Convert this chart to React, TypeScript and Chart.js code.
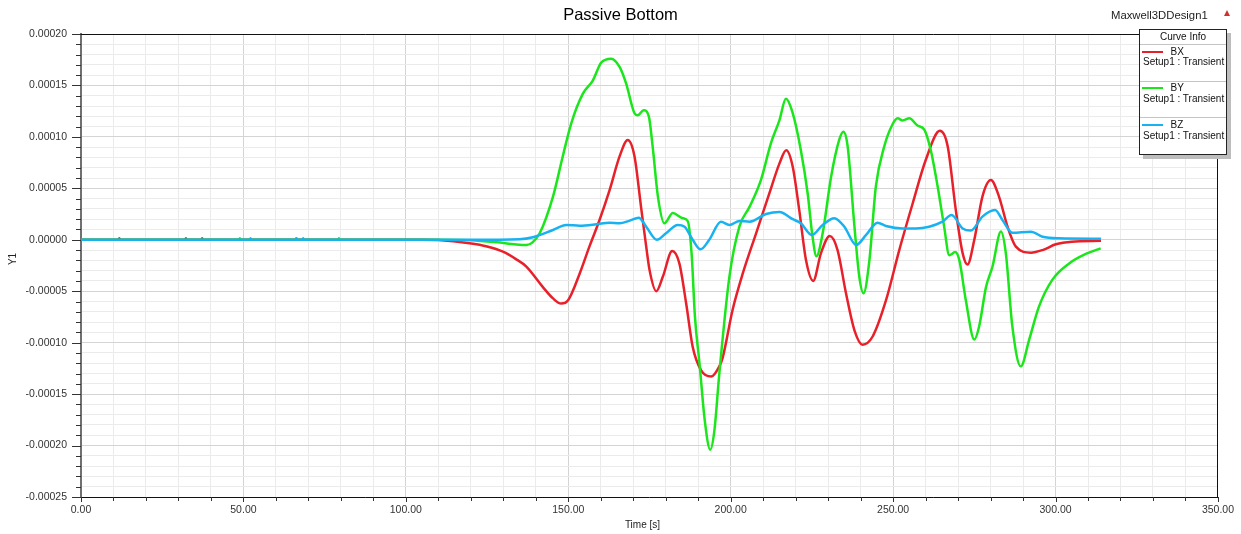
import React, { useEffect, useRef } from 'react';
import { Chart, registerables } from 'chart.js';

Chart.register(...registerables);

const FONT = '"Liberation Sans", Arial, Helvetica, sans-serif';
const TITLE = 'Passive Bottom';
const DESIGN = 'Maxwell3DDesign1';
const X_LABEL = 'Time [s]';
const Y_LABEL = 'Y1';
const LEGEND_TITLE = 'Curve Info';
const SERIES_NAMES = ['BX', 'BY', 'BZ'];
const SERIES_SUB = 'Setup1 : Transient';
const SERIES_COLORS = ['#e8202a', '#1be61b', '#19b2f0'];

const X_MIN = 0;
const X_MAX = 350;
const X_MINOR = 10;
const X_MAJOR = 50;
const Y_MIN = -0.00025;
const Y_MAX = 0.0002;
const Y_MINOR = 0.00001;
const Y_MAJOR = 0.00005;

// [time s, value]
const BX: [number, number][] = [
  [0, 0], [11.5, 0], [11.8, 1.5e-6], [12.1, 0], [32, 0], [32.3, 1.5e-6], [32.6, 0],
  [37, 0], [37.3, 1.5e-6], [37.6, 0], [105, 0], [110, -0.3e-6], [119.6, -3.4e-6],
  [125, -6.5e-6], [129.9, -1.16e-5], [134, -1.9e-5], [137.1, -2.6e-5], [142.2, -4.6e-5],
  [145.3, -5.7e-5], [147.8, -6.2e-5], [149.9, -5.9e-5], [153.5, -3.3e-5], [156.5, -6.7e-6],
  [159.6, 1.9e-5], [162.7, 4.8e-5], [165.8, 8.1e-5], [168.3, 9.7e-5], [170.4, 8.1e-5],
  [172.4, 3.2e-5], [174, -6.7e-6], [175, -2.9e-5], [177.1, -5.0e-5], [179.1, -3.6e-5],
  [182.0, -1.1e-5], [184.2, -2.3e-5], [186.3, -6.2e-5], [188.3, -1.04e-4], [190.9, -1.27e-4],
  [194, -1.33e-4], [196.5, -1.23e-4], [197.5, -1.15e-4], [200.6, -6.8e-5], [203.7, -3.3e-5],
  [207.8, 6e-6], [211.9, 4.5e-5], [215, 7.4e-5], [217.1, 8.7e-5], [219.1, 7.1e-5],
  [221.1, 2.9e-5], [223.2, -2e-5], [225.4, -4e-5], [227.8, -1.3e-5], [230.5, 3.7e-6],
  [232.9, -1e-5], [235.5, -5.2e-5], [238.1, -8.8e-5], [240.6, -1.02e-4], [243.7, -9.4e-5],
  [247.8, -5.9e-5], [251.9, -1e-5], [256, 3.5e-5], [260.1, 7.8e-5], [264.4, 1.06e-4],
  [266.8, 9.1e-5], [269.3, 2.9e-5], [271.4, -1.3e-5], [272.9, -2.4e-5], [275, 0],
  [277.5, 4.2e-5], [280.1, 5.8e-5], [282.6, 4.2e-5], [285.2, 1.3e-5], [287.8, -6.7e-6],
  [292.4, -1.25e-5], [296, -1e-5], [300.1, -4.4e-6], [305, -1.8e-6], [314, -1e-6],
];

const BY: [number, number][] = [
  [0, 0], [48.6, 0], [48.9, 1.5e-6], [49.2, 0], [66, 0], [66.3, 1.5e-6], [66.6, 0],
  [79.1, 0], [79.4, 1.5e-6], [79.7, 0], [110, 0], [120, -0.5e-6], [128, -2.5e-6],
  [134, -4.5e-6], [137.2, -5e-6], [139, -2.5e-6], [141.2, 6.3e-6], [145.3, 4.2e-5],
  [148.3, 8.1e-5], [150.9, 1.13e-4], [154.5, 1.42e-4], [157.6, 1.55e-4], [160.1, 1.72e-4],
  [163.2, 1.76e-4], [165.8, 1.68e-4], [167.8, 1.52e-4], [170.4, 1.23e-4], [171.4, 1.21e-4],
  [173.2, 1.26e-4], [174.8, 1.2e-4], [176, 9.0e-5], [177.6, 4.2e-5], [179.6, 1.6e-5],
  [182.2, 2.6e-5], [185.2, 2.1e-5], [186.8, 1.8e-5], [188, -1.5e-5], [189, -7.5e-5],
  [190.4, -1.2e-4], [192, -1.75e-4], [193.7, -2.04e-4], [195, -1.85e-4], [196.5, -1.3e-4],
  [199.6, -3.6e-5], [202.7, 1.3e-5], [205.8, 3.2e-5], [209.3, 5.8e-5], [212.4, 9.4e-5],
  [215, 1.16e-4], [217, 1.37e-4], [219.1, 1.23e-4], [221.6, 8.7e-5], [223.7, 4.5e-5],
  [225.2, 3e-6], [226.4, -1.6e-5], [228.3, 6e-6], [230.9, 6.1e-5], [233.4, 9.7e-5],
  [234.7, 1.05e-4], [236, 9.1e-5], [238.1, 1.3e-5], [239.6, -3.6e-5], [240.9, -5.2e-5],
  [242.7, -2e-5], [244.7, 5.2e-5], [247.3, 9.1e-5], [249.8, 1.12e-4], [251.4, 1.18e-4],
  [252.9, 1.16e-4], [255, 1.18e-4], [257.5, 1.11e-4], [259.6, 1.07e-4], [261.6, 8.7e-5],
  [263.7, 5.2e-5], [265.7, 1.3e-5], [267.3, -1.5e-5], [269.1, -1.2e-5], [270.4, -2e-5],
  [272.4, -5.9e-5], [275, -9.7e-5], [276.5, -8.4e-5], [278.6, -4.6e-5], [280.6, -2.6e-5],
  [283.2, 8e-6], [284.7, -1.3e-5], [286.7, -8.4e-5], [289.3, -1.23e-4], [291.9, -9.7e-5],
  [294.9, -6.5e-5], [299, -3.9e-5], [304.2, -2.3e-5], [309.3, -1.38e-5], [313.9, -8.3e-6],
];

const BZ: [number, number][] = [
  [0, 0], [52, 0], [52.2, 1.5e-6], [52.4, 0], [66.1, 0], [66.3, 1.5e-6], [66.5, 0],
  [68.2, 0], [68.4, 1.5e-6], [68.6, 0], [120, 0], [135, 0.5e-6], [139.1, 2.4e-6],
  [145.3, 9.5e-6], [149.4, 1.44e-5], [153.5, 1.37e-5], [158.6, 1.5e-5], [162.7, 1.66e-5],
  [165.8, 1.6e-5], [168.9, 1.86e-5], [171.7, 2.15e-5], [174, 1.27e-5], [177.3, 0],
  [180.1, 6.3e-6], [183.7, 1.44e-5], [185.8, 1.27e-5], [188.3, 0], [190.7, -9.3e-6],
  [193.4, 0], [197, 1.76e-5], [199.6, 1.44e-5], [202.7, 1.83e-5], [205.8, 1.76e-5],
  [210.9, 2.5e-5], [215, 2.7e-5], [219.1, 2.0e-5], [221.6, 1.6e-5], [225, 4.7e-6],
  [228.3, 1.44e-5], [231.9, 2.1e-5], [235, 1.27e-5], [238.6, -5e-6], [241.7, 4.7e-6],
  [245.2, 1.66e-5], [247.8, 1.34e-5], [252.9, 1.1e-5], [257, 1.1e-5], [261.1, 1.27e-5],
  [265.2, 1.76e-5], [268, 2.4e-5], [271.4, 1.1e-5], [273.9, 8.9e-6], [277.5, 2.25e-5],
  [281.4, 2.9e-5], [283.7, 1.9e-5], [286.7, 6.9e-6], [292.4, 7.9e-6], [296, 3e-6],
  [301.1, 1.4e-6], [314, 1e-6],
];

const SERIES = [BX, BY, BZ];

const isMajor = (v: number, step: number) => Math.abs(v / step - Math.round(v / step)) < 1e-6;

const framePlugin = {
  id: 'frameAndTicks',
  afterDraw(chart: any) {
    const { ctx, chartArea: a, scales } = chart;
    ctx.save();
    ctx.strokeStyle = '#111';
    ctx.lineWidth = 1;
    ctx.beginPath();
    const top = Math.round(a.top) + 0.5;
    const right = Math.round(a.right) - 0.5;
    ctx.moveTo(a.left, top);
    ctx.lineTo(a.right, top);
    ctx.moveTo(right, a.top);
    ctx.lineTo(right, a.bottom);
    ctx.stroke();

    // tick marks
    ctx.strokeStyle = '#333';
    ctx.beginPath();
    for (const t of scales.x.ticks) {
      const px = Math.round(scales.x.getPixelForValue(t.value)) + 0.5;
      const len = isMajor(t.value, X_MAJOR) ? 5 : 4;
      ctx.moveTo(px, a.bottom);
      ctx.lineTo(px, a.bottom + len);
    }
    for (const t of scales.y.ticks) {
      const py = Math.round(scales.y.getPixelForValue(t.value)) + 0.5;
      const len = isMajor(t.value, Y_MAJOR) ? 9 : 5;
      ctx.moveTo(a.left - len, py);
      ctx.lineTo(a.left, py);
    }
    ctx.stroke();

    // axis titles
    ctx.fillStyle = '#222';
    ctx.font = `10px ${FONT}`;
    ctx.textAlign = 'center';
    ctx.textBaseline = 'middle';
    ctx.fillText(X_LABEL, (a.left + a.right) / 2 - 7, 525);
    ctx.translate(13.5, 259);
    ctx.rotate(-Math.PI / 2);
    ctx.fillText(Y_LABEL, 0, 0);
    ctx.restore();
  },
};

export default function App() {
  const canvasRef = useRef<HTMLCanvasElement | null>(null);

  useEffect(() => {
    document.body.style.margin = '0';
    document.body.style.overflow = 'hidden';
    const canvas = canvasRef.current;
    if (!canvas) return;
    const chart = new Chart(canvas, {
      type: 'line',
      data: {
        datasets: SERIES.map((pts, i) => ({
          label: SERIES_NAMES[i],
          data: pts.map(([x, y]) => ({ x, y })),
          borderColor: SERIES_COLORS[i],
          backgroundColor: SERIES_COLORS[i],
          borderWidth: 2.5,
          pointRadius: 0,
          fill: false,
          cubicInterpolationMode: 'monotone' as const,
          order: SERIES.length - i,
        })),
      },
      options: {
        responsive: false,
        animation: false,
        devicePixelRatio: 1,
        layout: { padding: { top: 0, right: 22, left: 22, bottom: 0 } },
        plugins: {
          legend: { display: false },
          tooltip: { enabled: false },
          title: {
            display: true,
            text: TITLE,
            color: '#000',
            font: { family: FONT, size: 16.5, weight: 'normal' as const },
            padding: { top: 6, bottom: 8.2 },
          },
        },
        scales: {
          x: {
            type: 'linear',
            min: X_MIN,
            max: X_MAX,
            afterFit: (s: any) => { s.height = 37; },
            ticks: {
              stepSize: X_MINOR,
              autoSkip: false,
              maxRotation: 0,
              padding: 7,
              color: '#333',
              font: { family: FONT, size: 10.5 },
              callback: (v: any) => (isMajor(Number(v), X_MAJOR) ? Number(v).toFixed(2) : ''),
            },
            grid: {
              drawTicks: false,
              color: (c: any) => (c.tick && isMajor(c.tick.value, X_MAJOR) ? '#d4d4d4' : '#ebebeb'),
              lineWidth: 1,
            },
            border: { display: true, color: '#111', width: 1 },
          },
          y: {
            type: 'linear',
            min: Y_MIN,
            max: Y_MAX,
            afterFit: (s: any) => { s.width = 59; },
            ticks: {
              stepSize: Y_MINOR,
              autoSkip: false,
              padding: 14,
              color: '#333',
              font: { family: FONT, size: 10.5 },
              callback: (v: any) => {
                const n = Number(v);
                if (!isMajor(n, Y_MAJOR)) return '';
                return Math.abs(n) < 1e-12 ? '0.00000' : n.toFixed(5);
              },
            },
            grid: {
              drawTicks: false,
              color: (c: any) => (c.tick && isMajor(c.tick.value, Y_MAJOR) ? '#d4d4d4' : '#ebebeb'),
              lineWidth: 1,
            },
            border: { display: true, color: '#707070', width: 2 },
          },
        },
      },
      plugins: [framePlugin],
    } as any);
    return () => chart.destroy();
  }, []);

  const entryTop = [21.7, 58.3, 95];
  const subTop = [32.3, 69, 106];
  const seps = [51, 87.3];

  return (
    <div style={{ position: 'absolute', left: 0, top: 0, width: 1241, height: 534, background: '#fff', fontFamily: FONT }}>
      <canvas ref={canvasRef} width={1241} height={534} style={{ display: 'block', width: 1241, height: 534 }} />
      <div style={{ position: 'absolute', left: 1111, top: 7, height: 16, lineHeight: '16px', fontSize: 11.3, color: '#222', whiteSpace: 'nowrap' }}>{DESIGN}</div>
      <div style={{ position: 'absolute', left: 1224, top: 10, width: 0, height: 0, borderLeft: '3.5px solid transparent', borderRight: '3.5px solid transparent', borderBottom: '6px solid #d23030' }} />
      <div style={{ position: 'absolute', left: 1139, top: 29, width: 88, height: 126, boxSizing: 'border-box', border: '1px solid #222', background: '#fff', boxShadow: '4px 4px 0 #bdbdbd' }}>
        <div style={{ position: 'absolute', left: 0, right: 0, top: 0, height: 14, lineHeight: '14px', textAlign: 'center', fontSize: 10, color: '#111' }}>{LEGEND_TITLE}</div>
        <div style={{ position: 'absolute', left: 0, right: 0, top: 14, height: 1, background: '#c4c4c4' }} />
        {seps.map((s, i) => (
          <div key={'s' + i} style={{ position: 'absolute', left: 0, right: 0, top: s, height: 1, background: '#c4c4c4' }} />
        ))}
        {SERIES_NAMES.map((name, i) => (
          <React.Fragment key={name}>
            <div style={{ position: 'absolute', left: 2, top: entryTop[i] - 1, width: 21, height: 2, background: SERIES_COLORS[i] }} />
            <div style={{ position: 'absolute', left: 30.5, top: entryTop[i] - 7, height: 14, lineHeight: '14px', fontSize: 10, color: '#111' }}>{name}</div>
            <div style={{ position: 'absolute', left: 3, top: subTop[i] - 7, height: 14, lineHeight: '14px', fontSize: 10, color: '#111', whiteSpace: 'nowrap' }}>{SERIES_SUB}</div>
          </React.Fragment>
        ))}
      </div>
    </div>
  );
}
